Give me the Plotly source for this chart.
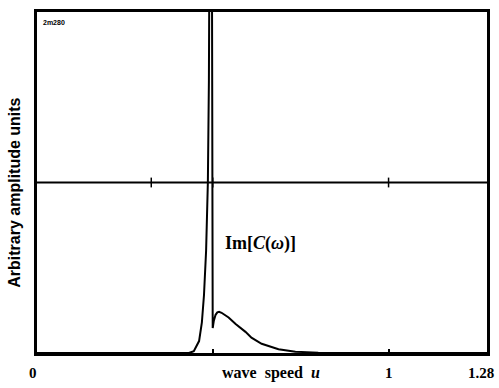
import plotly.graph_objects as go

# wave speed u and Im[C(omega)] (arbitrary units)
u_vals = [0.0, 0.40, 0.432, 0.446, 0.461, 0.469, 0.475, 0.481, 0.486, 0.489,
          0.492, 0.4955, 0.4975, 0.4985, 0.4992, 0.4998, 0.503, 0.508, 0.513,
          0.518, 0.525, 0.545, 0.565, 0.593, 0.61, 0.639, 0.687, 0.735, 0.80,
          0.90, 1.28]
im_vals = [0.0, 0.0, 0.0, 0.005, 0.035, 0.09, 0.17, 0.30, 0.50, 0.80,
           1.20, 2.50, 1.20, 0.50, 0.15, 0.073, 0.095, 0.112, 0.119,
           0.121, 0.118, 0.104, 0.085, 0.062, 0.045, 0.027, 0.011, 0.004, 0.001,
           0.0, 0.0]

mid_level = 0.5
mid_x = [0.0, 1.28]
mid_tick_u = [0.325, 0.5, 1.0]
bottom_tick_u = [0.5, 1.0]
x_label_vals = [0.0, 1.0, 1.28]
x_label_text = ["0", "1", "1.28"]

fig = go.Figure()
fig.add_trace(go.Scatter(x=mid_x, y=[mid_level, mid_level], mode="lines",
                         line=dict(color="black", width=2), hoverinfo="skip"))
fig.add_trace(go.Scatter(x=mid_tick_u, y=[mid_level] * len(mid_tick_u), mode="markers",
                         marker=dict(symbol="line-ns", size=7,
                                     line=dict(color="black", width=1.5)),
                         hoverinfo="skip"))
fig.add_trace(go.Scatter(x=u_vals, y=im_vals, mode="lines",
                         line=dict(color="black", width=2), hoverinfo="skip"))

serif = "Liberation Serif"
label_shift = {"0": -4, "1": 0, "1.28": -6}
for v, t in zip(x_label_vals, x_label_text):
    fig.add_annotation(x=v, y=0, xref="x", yref="y", text="<b>%s</b>" % t,
                       showarrow=False, yshift=-20, xshift=label_shift[t],
                       font=dict(family=serif, size=15, color="black"))
fig.add_annotation(x=0.665, y=0, xref="x", yref="y",
                   text="<b>wave&nbsp; speed&nbsp; <i>u</i></b>",
                   showarrow=False, yshift=-20,
                   font=dict(family=serif, size=16, color="black"))
fig.add_annotation(x=0.636, y=0.32, xref="x", yref="y",
                   text="<b>Im[<i>C</i>(<i>ω</i>)]</b>",
                   showarrow=False,
                   font=dict(family=serif, size=18, color="black"))
fig.add_annotation(x=0.012, y=0.985, xref="x", yref="paper",
                   text="<b>2m280</b>", showarrow=False, xanchor="left", yanchor="top",
                   font=dict(family="Liberation Sans", size=7, color="black"))
fig.add_annotation(x=0, y=0.47, xref="paper", yref="paper", xshift=-22,
                   xanchor="center", yanchor="middle",
                   text="<b>Arbitrary amplitude units</b>", textangle=-90,
                   showarrow=False,
                   font=dict(family="Liberation Sans", size=16, color="black"))

fig.update_xaxes(range=[0, 1.28], showgrid=False, zeroline=False,
                 showline=True, linecolor="black", linewidth=2.5, mirror=True,
                 tickvals=bottom_tick_u, ticks="inside", ticklen=4,
                 tickcolor="black", tickwidth=1.5, showticklabels=False)
fig.update_yaxes(range=[0, 1.0], showgrid=False, zeroline=False,
                 showline=True, linecolor="black", linewidth=2.5, mirror=True,
                 ticks="", showticklabels=False)
fig.update_layout(width=499, height=388, margin=dict(l=37, r=9, t=12, b=35),
                  paper_bgcolor="white", plot_bgcolor="white", showlegend=False)
fig.write_html("out.html")
